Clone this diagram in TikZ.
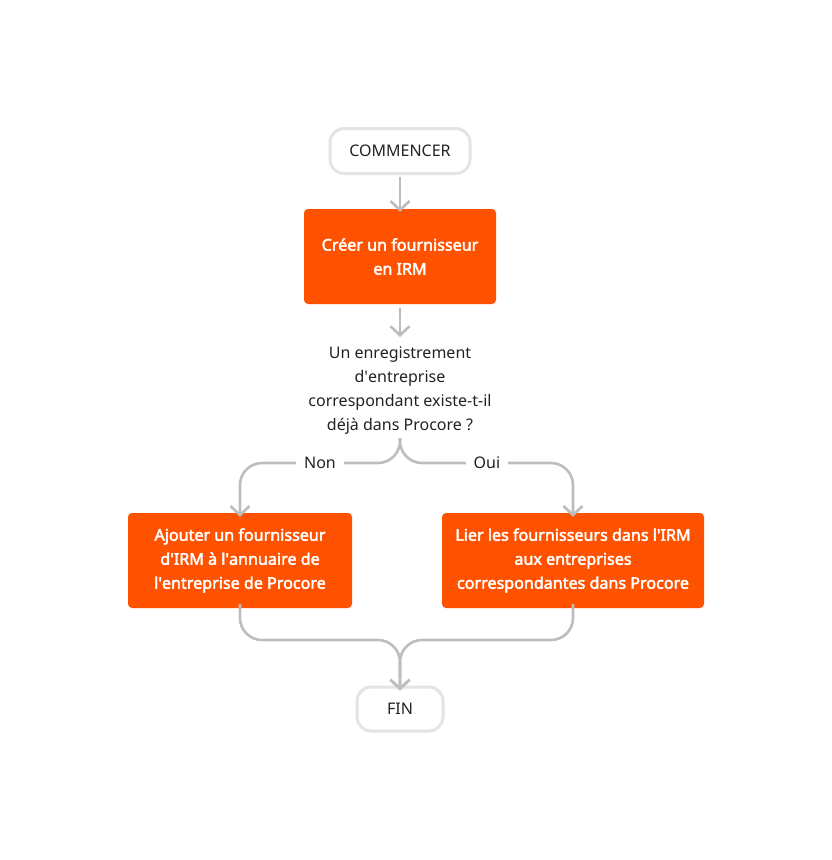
\documentclass[tikz,border=0pt]{standalone}
\usepackage{fontspec}
\setmainfont{Noto Sans}[BoldFont={Noto Sans},BoldFeatures={FakeBold=2.5}]
\usetikzlibrary{arrows.meta}
\definecolor{procore}{HTML}{FF5200}
\definecolor{linkgray}{HTML}{BDBDBD}
\definecolor{pillgray}{HTML}{E4E4E4}
\definecolor{inkdark}{HTML}{222222}
\newcommand{\aq}{\textquotesingle}
\begin{document}
\begin{tikzpicture}[x=1pt,y=-1pt,
  pill/.style={draw=pillgray,line width=3pt,fill=white,rounded corners=14pt,
    text=inkdark,font=\fontsize{16}{24}\selectfont,inner sep=0pt},
  task/.style={fill=procore,rounded corners=4pt,text=white,align=center,
    font=\fontsize{16.1}{24}\selectfont\bfseries,inner sep=0pt},
  link/.style={draw=linkgray,line width=2.6pt,rounded corners=22pt},
  tip/.style={-{Straight Barb[length=9pt,width=19pt]}},
  answer/.style={fill=white,text=inkdark,font=\fontsize{16}{20}\selectfont,inner xsep=8pt}]
\useasboundingbox (0,0) rectangle (832,860);
% nodes
\node [pill,minimum width=140pt,minimum height=45pt] (start) at (400,151) {COMMENCER};
\node [task,minimum width=192pt,minimum height=95pt] (create) at (400,256.5) {Créer un fournisseur\\en IRM};
\node [align=center,text=inkdark,font=\fontsize{16}{24}\selectfont,inner sep=0pt] (question) at (400,391)
  {Un enregistrement\\d\aq entreprise\\correspondant existe-t-il\\déjà dans Procore ?};
\node [task,minimum width=224pt,minimum height=95pt] (addsup) at (240,560.5)
  {Ajouter un fournisseur\\d\aq IRM à l\aq annuaire de\\l\aq entreprise de Procore};
\node [task,minimum width=262pt,minimum height=95pt] (linksup) at (573,560.5)
  {Lier les fournisseurs dans l\aq IRM\\aux entreprises\\correspondantes dans Procore};
\node [pill,minimum width=86pt,minimum height=44pt] (finish) at (400,709) {FIN};
% connectors
\coordinate (apex) at (400,438);
\coordinate (merge) at (400,640);
\draw [link,tip] (start.south) ++(0,2) -- ([yshift=-3pt]create.north);
\draw [link,tip] (create.south) ++(0,4) -- (400,337);
\draw [link,tip] (apex) -- (400,463) -- (240,463) -- ([yshift=-4pt]addsup.north);
\draw [link,tip] (apex) -- (400,463) -- (573,463) -- ([yshift=-4pt]linksup.north);
\node [answer] (no) at (320,463) {Non};
\node [answer] (yes) at (487,463) {Oui};
\draw [link,tip] ([yshift=4pt]addsup.south) -- (240,640) -- (merge) -- ([yshift=-5pt]finish.north);
\draw [link,tip] ([yshift=4pt]linksup.south) -- (573,640) -- (merge) -- ([yshift=-5pt]finish.north);
\end{tikzpicture}
\end{document}
